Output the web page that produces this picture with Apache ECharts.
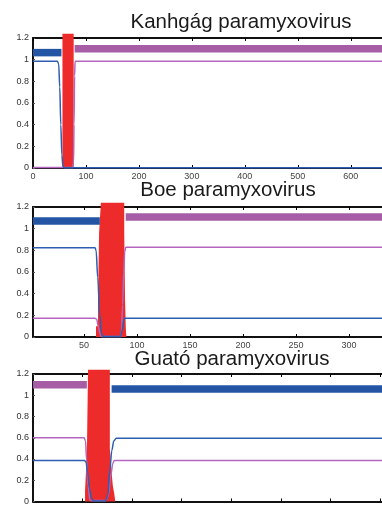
<!DOCTYPE html>
<html>
<head>
<meta charset="utf-8">
<script src="https://cdn.jsdelivr.net/npm/echarts@6/dist/echarts.min.js"></script>
<style>
html,body{margin:0;padding:0;background:#fff;}
#chart{width:382px;height:506px;}
</style>
</head>
<body>
<div id="chart"></div>
<script>
// ---------- Titles ----------
const titles = ['Kanhgág paramyxovirus', 'Boe paramyxovirus', 'Guató paramyxovirus'];

// ---------- Axis settings (data units) ----------
const xRange1 = [0, 659];
const xRange2 = [2, 331];
const xRange3 = [0, 352];
const xTicks1 = [0, 100, 200, 300, 400, 500, 600];
const xTicks2 = [50, 100, 150, 200, 250, 300];
const xTicks3 = [50, 100, 150, 200, 250, 300, 350];

// ---------- Panel 1: Kanhgág ----------
const blueBar1X = [0, 53.7];      const blueBar1Y = [1.065, 1.065];
const purpleBar1X = [78.6, 659];  const purpleBar1Y = [1.10, 1.10];
// red coverage: step edges and the height between each edge and the next
const red1Edges = [55.6, 76.8];   const red1Heights = [1.24];
const blue1X = [0, 46, 48.5, 50.5, 52.5, 54.5, 56.5, 58.5, 659];
const blue1Y = [0.985, 0.985, 0.96, 0.75, 0.4, 0.12, 0.02, 0.003, 0.003];
const purple1X = [0, 75, 76.5, 77.5, 78.5, 79.5, 659];
const purple1Y = [0.004, 0.004, 0.05, 0.4, 0.85, 0.985, 0.985];

// ---------- Panel 2: Boe ----------
const blueBar2X = [2, 65];        const blueBar2Y = [1.07, 1.07];
const purpleBar2X = [89.4, 331];  const purpleBar2Y = [1.108, 1.108];
const red2Edges = [61.4, 63.3, 64.3, 66, 88, 88.8, 89.5, 90];
const red2Heights = [0.1, 0.35, 0.96, 1.24, 0.96, 0.34, 0.08];
const blue2X = [2, 60.5, 61.5, 63, 65, 66.5, 67.5, 84.5, 86, 87.5, 88.5, 331];
const blue2Y = [0.825, 0.825, 0.8, 0.55, 0.2, 0.04, 0.005, 0.005, 0.06, 0.15, 0.172, 0.172];
const purple2X = [2, 60.5, 62, 63.5, 65, 66.5, 84.5, 85.5, 86.5, 87.5, 88.5, 89.5, 331];
const purple2Y = [0.172, 0.172, 0.165, 0.1, 0.03, 0.005, 0.005, 0.05, 0.3, 0.6, 0.79, 0.828, 0.828];

// ---------- Panel 3: Guató ----------
const purpleBar3X = [0, 54.3];    const purpleBar3Y = [1.10, 1.10];
const blueBar3X = [79.3, 352];    const blueBar3Y = [1.06, 1.06];
const red3Edges = [52.5, 53.5, 54.5, 55.5, 77.5, 79, 80.5, 82, 83];
const red3Heights = [0.1, 0.3, 0.55, 1.24, 0.5, 0.3, 0.15, 0.07];
const purple3X = [0, 51.5, 53, 54, 55.5, 57.5, 73.5, 76, 78.5, 80.5, 82, 352];
const purple3Y = [0.6, 0.6, 0.57, 0.4, 0.15, 0.01, 0.01, 0.06, 0.25, 0.36, 0.385, 0.385];
const blue3X = [0, 52, 53.5, 55, 57, 59, 61, 73, 75.5, 77.5, 79.5, 81.5, 84, 352];
const blue3Y = [0.385, 0.385, 0.37, 0.28, 0.12, 0.03, 0.005, 0.005, 0.06, 0.3, 0.48, 0.57, 0.595, 0.595];

// ---------- Build ----------
const zip = (xs, ys) => xs.map((x, i) => [x, ys[i]]);
function stepPoints(edges, heights) {
  const pts = [[edges[0], 0]];
  for (let i = 0; i < heights.length; i++) {
    pts.push([edges[i], heights[i]]);
    pts.push([edges[i + 1], heights[i]]);
  }
  pts.push([edges[edges.length - 1], 0]);
  return pts;
}
const C = {
  blueBar: '#2455A4', purpleBar: '#A65DA6',
  blueLine: '#2F5DB0', purpleLine: '#B466BE', red: '#EE2B2B'
};
const font = 'Liberation Sans, Arial, sans-serif';

const gridTops = [38, 207, 374];
const ranges = [xRange1, xRange2, xRange3];
const ticks = [xTicks1, xTicks2, xTicks3];
const titleCenters = [241, 228, 232];
const titleTops = [12, 180, 349];

const grids = gridTops.map(t => ({ left: 33, right: -3, top: t, height: 130, show: false }));

const frameLine = { show: true, onZero: false, lineStyle: { color: '#111', width: 2 } };
const xAxes = [];
ranges.forEach((r, i) => {
  xAxes.push({
    type: 'value', gridIndex: i, min: r[0], max: r[1], position: 'bottom',
    axisLine: frameLine,
    axisTick: { show: true, inside: true, length: 3, customValues: ticks[i], lineStyle: { color: '#000' } },
    axisLabel: { show: i !== 2, customValues: ticks[i], fontSize: 9, color: '#444', margin: 4, fontFamily: font },
    splitLine: { show: false }
  });
  xAxes.push({
    type: 'value', gridIndex: i, min: r[0], max: r[1], position: 'top',
    axisLine: frameLine,
    axisTick: { show: true, inside: true, length: 3, customValues: ticks[i], lineStyle: { color: '#000' } },
    axisLabel: { show: false },
    splitLine: { show: false }
  });
});

const yAxes = [0, 1, 2].map(i => ({
  type: 'value', gridIndex: i, min: 0, max: 1.2, interval: 0.2,
  axisLine: frameLine,
  axisTick: { show: true, inside: true, length: 2, lineStyle: { color: '#555' } },
  axisLabel: { fontSize: 9, color: '#333', margin: 4, fontFamily: font },
  splitLine: { show: false }
}));

function redSeries(i, edges, heights) {
  return {
    type: 'line', xAxisIndex: i * 2, yAxisIndex: i, data: stepPoints(edges, heights),
    symbol: 'none', clip: false, z: 2,
    lineStyle: { width: 0, color: C.red },
    areaStyle: { color: C.red, opacity: 1 }
  };
}
function thinLine(i, xs, ys, color) {
  return {
    type: 'line', xAxisIndex: i * 2, yAxisIndex: i, data: zip(xs, ys),
    symbol: 'none', clip: false, smooth: 0.35, smoothMonotone: 'x', z: 3,
    lineStyle: { width: 1.5, color: color }
  };
}
function thickBar(i, xs, ys, color) {
  return {
    type: 'line', xAxisIndex: i * 2, yAxisIndex: i, data: zip(xs, ys),
    symbol: 'none', clip: false, z: 3,
    lineStyle: { width: 7.5, color: color, cap: 'butt' }
  };
}

const series = [
  redSeries(0, red1Edges, red1Heights),
  thinLine(0, purple1X, purple1Y, C.purpleLine),
  thinLine(0, blue1X, blue1Y, C.blueLine),
  thickBar(0, blueBar1X, blueBar1Y, C.blueBar),
  thickBar(0, purpleBar1X, purpleBar1Y, C.purpleBar),

  redSeries(1, red2Edges, red2Heights),
  thinLine(1, purple2X, purple2Y, C.purpleLine),
  thinLine(1, blue2X, blue2Y, C.blueLine),
  thickBar(1, blueBar2X, blueBar2Y, C.blueBar),
  thickBar(1, purpleBar2X, purpleBar2Y, C.purpleBar),

  redSeries(2, red3Edges, red3Heights),
  thinLine(2, purple3X, purple3Y, C.purpleLine),
  thinLine(2, blue3X, blue3Y, C.blueLine),
  thickBar(2, purpleBar3X, purpleBar3Y, C.purpleBar),
  thickBar(2, blueBar3X, blueBar3Y, C.blueBar)
];

const chart = echarts.init(document.getElementById('chart'), null, { renderer: 'canvas' });
chart.setOption({
  animation: false,
  backgroundColor: '#fff',
  textStyle: { fontFamily: font },
  title: titles.map((t, i) => ({
    text: t, left: titleCenters[i], top: titleTops[i], textAlign: 'center', padding: 0,
    textStyle: { fontSize: 20.5, fontWeight: 'normal', color: '#1a1a1a', fontFamily: font }
  })),
  grid: grids,
  xAxis: xAxes,
  yAxis: yAxes,
  series: series
});
</script>
</body>
</html>
